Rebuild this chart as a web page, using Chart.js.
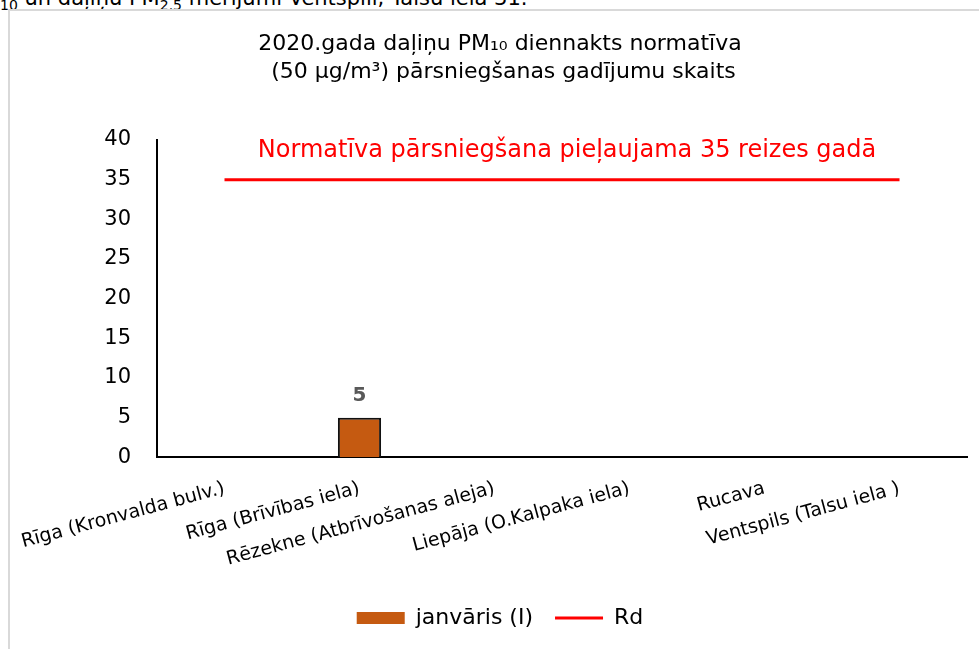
<!DOCTYPE html>
<html>
<head>
<meta charset="utf-8">
<script src="https://cdn.jsdelivr.net/npm/chart.js@4"></script>
<style>
  html, body { margin: 0; padding: 0; background: #fff; overflow: hidden; }
  body { width: 979px; height: 649px; position: relative; font-family: "DejaVu Sans", sans-serif; }
  #caption { position: absolute; left: 0; top: -14px; font-size: 21px; line-height: 24px; color: #000; white-space: nowrap; }
  #caption sub { font-size: 14px; }
  #frame { position: absolute; left: 8px; top: 9px; width: 1000px; height: 700px;
           border-left: 2px solid #d9d9d9; border-top: 2px solid #d9d9d9; }
  #wrap { position: absolute; left: 10px; top: 11px; width: 980px; height: 638px; }
</style>
</head>
<body>
<div id="caption"><sub>10</sub> un daļiņu PM<sub>2.5</sub> mērījumi Ventspilī, Talsu ielā 31.</div>
<div id="frame"></div>
<div id="wrap"><canvas id="chart"></canvas></div>
<script>
// stations on the x axis
const stations = [
  'Rīga (Kronvalda bulv.)',
  'Rīga (Brīvības iela)',
  'Rēzekne (Atbrīvošanas aleja)',
  'Liepāja (O.Kalpaka iela)',
  'Rucava',
  'Ventspils (Talsu iela )'
];
// number of days over the limit in January
const januaryCounts = [null, 5, null, null, null, null];
// allowed exceedances per year
const limitRd = [35, 35, 35, 35, 35, 35];
const yMin = 0, yMax = 40, yStep = 5;

const titleLines = ['2020.gada daļiņu PM₁₀ diennakts normatīva', ' (50 μg/m³) pārsniegšanas gadījumu skaits'];
const noteText = 'Normatīva pārsniegšana pieļaujama 35 reizes gadā';

const FONT = '"DejaVu Sans", sans-serif';

// value above each bar
const barValueLabels = {
  id: 'barValueLabels',
  afterDatasetsDraw(chart) {
    const ctx = chart.ctx;
    const meta = chart.getDatasetMeta(0);
    ctx.save();
    ctx.font = 'bold 20px ' + FONT;
    ctx.fillStyle = '#595959';
    ctx.textAlign = 'center';
    ctx.textBaseline = 'bottom';
    meta.data.forEach((bar, i) => {
      const v = januaryCounts[i];
      if (v === null) return;
      ctx.fillText(String(v), bar.x, bar.y - 12);
    });
    ctx.restore();
  }
};

// red note above the limit line
const limitNote = {
  id: 'limitNote',
  afterDatasetsDraw(chart) {
    const ctx = chart.ctx;
    const area = chart.chartArea;
    const y = chart.scales.y.getPixelForValue(38.6);
    ctx.save();
    ctx.font = '24px ' + FONT;
    ctx.fillStyle = '#ff0000';
    ctx.textAlign = 'center';
    ctx.textBaseline = 'middle';
    ctx.fillText(noteText, (area.left + area.right) / 2 + 5, y);
    ctx.restore();
  }
};

new Chart(document.getElementById('chart'), {
  data: {
    labels: stations,
    datasets: [{
      type: 'bar',
      label: 'janvāris (I)',
      data: januaryCounts,
      backgroundColor: '#c55a11',
      borderColor: '#111',
      borderWidth: 2,
      categoryPercentage: 1,
      barPercentage: 0.32
    }, {
      type: 'line',
      label: 'Rd',
      data: limitRd,
      borderColor: '#ff0000',
      backgroundColor: '#ff0000',
      borderWidth: 3,
      pointRadius: 0,
      fill: false
    }]
  },
  options: {
    responsive: true,
    maintainAspectRatio: false,
    animation: false,
    layout: { padding: { left: 23, right: 23, top: 0, bottom: 10 } },
    plugins: {
      title: {
        display: true,
        text: titleLines,
        color: '#000',
        font: { family: FONT, size: 22, weight: 'normal', lineHeight: 1.25 },
        padding: { top: 20, bottom: 54 }
      },
      legend: {
        position: 'bottom',
        labels: {
          color: '#000',
          font: { family: FONT, size: 22 },
          usePointStyle: true,
          pointStyleWidth: 48,
          boxHeight: 12,
          padding: 22,
          sort: (a, b) => a.datasetIndex - b.datasetIndex,
          generateLabels(chart) {
            const items = Chart.defaults.plugins.legend.labels.generateLabels(chart);
            items.forEach(it => {
              if (it.datasetIndex === 0) {
                it.pointStyle = 'rect';
                it.lineWidth = 0;
                it.strokeStyle = '#c55a11';
              } else {
                it.pointStyle = 'line';
                it.lineWidth = 3;
              }
            });
            return items;
          }
        }
      },
      tooltip: { enabled: false }
    },
    scales: {
      x: {
        grid: { display: false },
        border: { display: true, color: '#000', width: 2 },
        ticks: {
          color: '#000',
          font: { family: FONT, size: 19 },
          minRotation: 15,
          maxRotation: 15,
          padding: 12,
          autoSkip: false
        },
        afterFit(scale) {
          scale.height += 2;
          scale.paddingLeft = 0;
        }
      },
      y: {
        min: yMin,
        max: yMax,
        grid: { display: false },
        border: { display: true, color: '#000', width: 2 },
        ticks: {
          stepSize: yStep,
          color: '#000',
          font: { family: FONT, size: 21 },
          padding: 18
        },
        afterFit(scale) { scale.width = 124; }
      }
    }
  },
  plugins: [barValueLabels, limitNote]
});
</script>
</body>
</html>
